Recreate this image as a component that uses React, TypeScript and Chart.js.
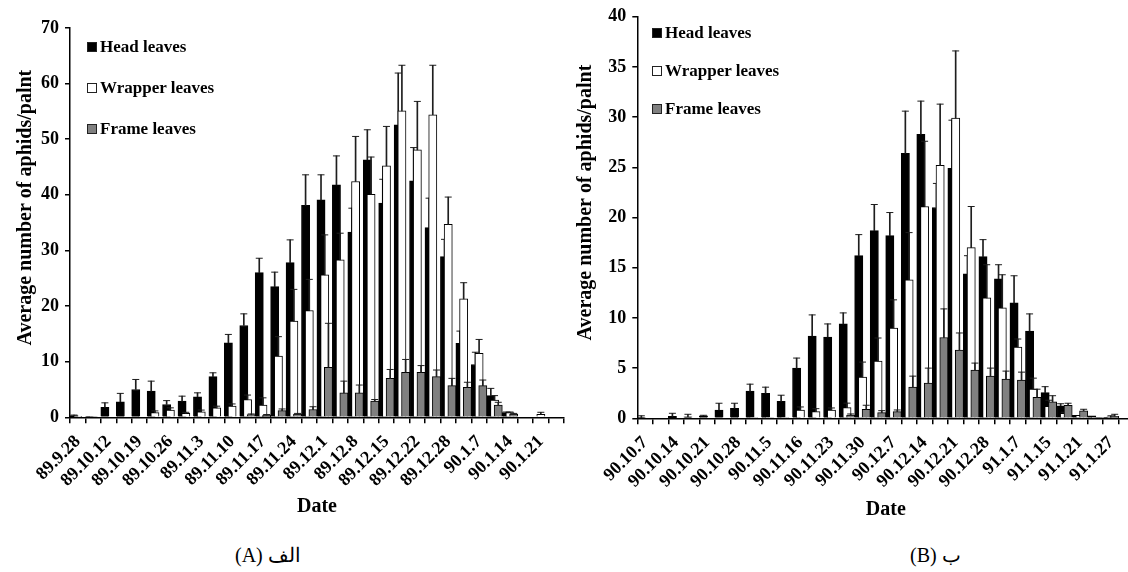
import React, { useEffect, useRef } from 'react';
import { Chart, registerables } from 'chart.js';

Chart.register(...registerables);

// ---------------- data ----------------
const seriesNames = ['Head leaves', 'Wrapper leaves', 'Frame leaves'];

// labels shown on every second sampling date
const dateLabelsA = ['89.9.28', '89.10.12', '89.10.19', '89.10.26', '89.11.3', '89.11.10', '89.11.17', '89.11.24', '89.12.1', '89.12.8', '89.12.15', '89.12.22', '89.12.28', '90.1.7', '90.1.14', '90.1.21'];
const dateLabelsB = ['90.10.7', '90.10.14', '90.10.21', '90.10.28', '90.11.5', '90.11.16', '90.11.23', '90.11.30', '90.12.7', '90.12.14', '90.12.21', '90.12.28', '91.1.7', '91.1.15', '91.1.21', '91.1.27'];

const headA = [0.3, 0.1, 1.8, 2.8, 5.0, 4.7, 2.3, 2.9, 3.7, 7.3, 13.4, 16.5, 26.0, 23.5, 27.8, 38.1, 39.1, 41.8, 33.3, 46.3, 38.5, 52.6, 42.5, 34.1, 28.9, 13.3, 9.5, 3.9, 0.85, 0, 0, 0];
const headErrA = [0.1, 0, 0.8, 1.5, 1.8, 1.8, 0.7, 0.9, 0.7, 0.7, 1.5, 2.1, 2.6, 2.6, 4.1, 5.5, 4.5, 5.2, 4.3, 5.4, 4.3, 9.3, 6.0, 5.3, 3.1, 2.2, 2.2, 1.3, 0.1, 0, 0, 0];
const wrapperA = [0.15, 0.1, 0, 0, 0, 0.85, 1.3, 0.7, 1.0, 1.7, 2.0, 3.2, 2.2, 11.0, 17.3, 19.2, 25.6, 28.3, 42.4, 40.1, 45.2, 55.1, 48.1, 54.4, 34.7, 21.3, 11.5, 3.1, 0.85, 0, 0.55, 0];
const wrapperErrA = [0, 0, 0, 0, 0, 0.3, 0.4, 0.2, 0.3, 0.3, 0.4, 0.8, 1.3, 3.5, 5.7, 5.6, 7.2, 4.8, 8.1, 6.7, 7.1, 8.2, 8.7, 8.9, 4.9, 2.9, 2.5, 0.8, 0.1, 0, 0.35, 0];
const frameA = [0, 0, 0, 0, 0, 0, 0, 0, 0, 0, 0, 0.5, 0.4, 1.2, 0.6, 1.4, 9.0, 4.4, 4.4, 2.9, 7.0, 8.1, 8.1, 7.3, 5.7, 5.4, 5.7, 2.2, 0.6, 0, 0, 0];
const frameErrA = [0, 0, 0, 0, 0, 0, 0, 0, 0, 0, 0, 0.1, 0.1, 0.3, 0.1, 0.5, 7.9, 2.1, 1.4, 0.3, 1.6, 2.3, 1.2, 1.2, 1.3, 0.9, 1.0, 0.5, 0.1, 0, 0, 0];

const headB = [0.05, 0, 0.2, 0.15, 0.25, 0.83, 1.0, 2.7, 2.5, 1.7, 5.0, 8.2, 8.1, 9.4, 16.2, 18.7, 18.2, 26.4, 28.3, 21.0, 24.9, 14.4, 16.1, 13.9, 11.5, 8.7, 2.55, 1.25, 0.3, 0.25, 0.1, 0];
const headErrB = [0.2, 0, 0.3, 0.25, 0.05, 0.67, 0.5, 0.7, 0.6, 0.6, 1.0, 2.1, 1.3, 1.1, 2.1, 2.6, 2.3, 4.2, 3.3, 2.4, 4.8, 1.8, 1.7, 1.4, 2.7, 1.7, 0.6, 0.2, 0, 0, 0, 0];
const wrapperB = [0, 0, 0, 0, 0, 0, 0, 0.1, 0.1, 0.1, 0.83, 0.66, 0.83, 1.06, 4.1, 5.7, 9.0, 13.8, 21.1, 25.2, 29.9, 17.0, 12.0, 11.0, 7.1, 2.9, 1.2, 0.5, 0.3, 0.1, 0.15, 0];
const wrapperErrB = [0, 0, 0, 0, 0, 0, 0, 0, 0, 0, 0.3, 0.3, 0.2, 0.45, 1.5, 2.3, 2.8, 4.7, 6.5, 6.1, 6.7, 4.1, 3.3, 3.3, 0.8, 1.1, 0.6, 0.1, 0, 0, 0.1, 0];
const frameB = [0, 0, 0, 0, 0, 0, 0, 0, 0, 0, 0, 0, 0, 0.33, 0.9, 0.56, 0.66, 3.1, 3.5, 8.05, 6.8, 4.8, 4.2, 3.9, 3.8, 2.1, 1.65, 1.3, 0.75, 0.1, 0.2, 0];
const frameErrB = [0, 0, 0, 0, 0, 0, 0, 0, 0, 0, 0, 0, 0, 0.1, 0.4, 0.2, 0.17, 1.1, 1.5, 2.85, 1.7, 0.7, 0.8, 0.8, 0.8, 0.8, 0.6, 0.2, 0.15, 0, 0.2, 0];

const yTicksA = { max: 70, step: 10 };
const yTicksB = { max: 40, step: 5 };

// ---------------- styling ----------------
const FONT = "'Liberation Serif', 'Times New Roman', serif";
const FILLS = ['#000000', '#ffffff', '#808080'];
const ERR_COLOR = '#1e1e1e';
const OFFSETS = [0.26, 0.5, 0.74]; // position of each series inside a sampling slot

type PanelProps = {
  left: number;
  width: number;
  height: number;
  padTop: number;
  padRight: number;
  padBottom: number;
  yWidth: number;
  xHeight: number;
  labelPad: number;
  labels: string[];
  values: number[][];
  errors: number[][];
  yMax: number;
  yStep: number;
  legendX: number;
  legendY: number[];
};

function indices(n: number): number[] {
  const out: number[] = [];
  for (let i = 0; i < n; i++) out.push(i);
  return out;
}

function Panel(p: PanelProps) {
  const ref = useRef<HTMLCanvasElement | null>(null);

  useEffect(() => {
    if (!ref.current) return;
    const n = p.values[0].length;
    const plotW = p.width - p.yWidth - p.padRight;
    const barW = (plotW / n) * 0.53;
    const datasets: any[] = [];
    p.values.forEach((vals, s) => {
      const errs = p.errors[s];
      const xs = vals.map((_, i) => i + OFFSETS[s]);
      datasets.push({
        type: 'bar',
        label: seriesNames[s],
        data: vals.map((v, i) => ({ x: xs[i], y: v })),
        backgroundColor: FILLS[s],
        borderColor: '#000',
        borderWidth: 1,
        barThickness: barW,
        grouped: false,
        order: 8 - 3 * s,
      });
      const errIdx = indices(vals.length).filter((i) => errs[i] > 0);
      datasets.push({
        type: 'bar',
        label: seriesNames[s] + ' SE',
        data: errIdx.map((i) => ({ x: xs[i], y: [vals[i], vals[i] + errs[i]] })),
        backgroundColor: ERR_COLOR,
        borderWidth: 0,
        barThickness: 1,
        grouped: false,
        order: 7 - 3 * s,
      });
      datasets.push({
        type: 'scatter',
        label: seriesNames[s] + ' SE cap',
        data: errIdx.map((i) => ({ x: xs[i], y: vals[i] + errs[i] })),
        pointStyle: 'line',
        pointRadius: 3.5,
        borderColor: ERR_COLOR,
        backgroundColor: ERR_COLOR,
        borderWidth: 1,
        order: 6 - 3 * s,
      });
    });

    const chart = new Chart(ref.current, {
      type: 'bar',
      data: { datasets },
      options: {
        responsive: false,
        animation: false,
        events: [],
        layout: { padding: { left: 0, top: p.padTop, right: p.padRight, bottom: p.padBottom } },
        plugins: { legend: { display: false }, tooltip: { enabled: false } },
        scales: {
          x: {
            type: 'linear',
            min: 0,
            max: n,
            offset: false,
            afterBuildTicks: (scale: any) => {
              scale.ticks = indices(n).map((i) => ({ value: i + 0.5 }));
            },
            afterFit: (scale: any) => {
              scale.height = p.xHeight;
            },
            ticks: {
              autoSkip: false,
              minRotation: 45,
              maxRotation: 45,
              padding: p.labelPad,
              color: '#000',
              font: { family: FONT, size: 18, weight: 'bold' },
              callback: (_v: any, i: number) => (i % 2 === 0 ? p.labels[i / 2] ?? '' : ''),
            },
            grid: {
              display: true,
              offset: true,
              drawOnChartArea: false,
              drawTicks: true,
              tickLength: 6,
              color: '#000',
              lineWidth: 1.5,
            },
            border: { display: true, color: '#000', width: 1.5 },
            title: {
              display: true,
              text: 'Date',
              color: '#000',
              font: { family: FONT, size: 20, weight: 'bold' },
              padding: { top: 0, bottom: 0 },
            },
          },
          y: {
            type: 'linear',
            min: 0,
            max: p.yMax,
            afterFit: (scale: any) => {
              scale.width = p.yWidth;
            },
            ticks: {
              stepSize: p.yStep,
              padding: 6,
              color: '#000',
              font: { family: FONT, size: 18, weight: 'bold' },
            },
            grid: {
              display: true,
              drawOnChartArea: false,
              drawTicks: true,
              tickLength: 5,
              color: '#000',
              lineWidth: 1.5,
            },
            border: { display: true, color: '#000', width: 1.5 },
            title: {
              display: true,
              text: '\u00a0\u00a0\u00a0\u00a0\u00a0\u00a0Average number of aphids/palnt',
              color: '#000',
              font: { family: FONT, size: 20, weight: 'bold' },
              padding: { top: 14, bottom: 0 },
            },
          },
        },
      } as any,
    });
    return () => chart.destroy();
  }, []);

  return (
    <>
      <canvas
        ref={ref}
        width={p.width}
        height={p.height}
        style={{ position: 'absolute', left: p.left, top: 0, width: p.width, height: p.height }}
      />
      {seriesNames.map((name, k) => (
        <div
          key={name}
          style={{
            position: 'absolute',
            left: p.legendX,
            top: p.legendY[k] - 12,
            height: 24,
            display: 'flex',
            alignItems: 'center',
            font: `bold 17px ${FONT}`,
            color: '#000',
            whiteSpace: 'nowrap',
          }}
        >
          <span
            style={{
              display: 'inline-block',
              width: 10,
              height: 10,
              boxSizing: 'border-box',
              background: FILLS[k],
              border: '1px solid #222',
              marginRight: 3,
            }}
          />
          {name}
        </div>
      ))}
    </>
  );
}

export default function App() {
  useEffect(() => {
    document.body.style.margin = '0';
  }, []);
  return (
    <div
      style={{
        position: 'fixed',
        left: 0,
        top: 0,
        width: 1128,
        height: 572,
        overflow: 'hidden',
        background: '#fff',
      }}
    >
      <Panel
        left={0}
        width={590}
        height={530}
        padTop={28}
        padRight={26}
        padBottom={11}
        yWidth={70}
        xHeight={101.7}
        labelPad={8}
        labels={dateLabelsA}
        values={[headA, wrapperA, frameA]}
        errors={[headErrA, wrapperErrA, frameErrA]}
        yMax={yTicksA.max}
        yStep={yTicksA.step}
        legendX={87}
        legendY={[47, 88, 129]}
      />
      <Panel
        left={560}
        width={590}
        height={530}
        padTop={15.2}
        padRight={14.4}
        padBottom={8}
        yWidth={77.3}
        xHeight={103.7}
        labelPad={8}
        labels={dateLabelsB}
        values={[headB, wrapperB, frameB]}
        errors={[headErrB, wrapperErrB, frameErrB]}
        yMax={yTicksB.max}
        yStep={yTicksB.step}
        legendX={652}
        legendY={[33, 71, 109]}
      />
      <div
        dir="ltr"
        style={{ position: 'absolute', left: 235, top: 543, font: `20px ${FONT}`, color: '#000', whiteSpace: 'nowrap' }}
      >
        (A) الف
      </div>
      <div
        dir="ltr"
        style={{ position: 'absolute', left: 910, top: 543, font: `20px ${FONT}`, color: '#000', whiteSpace: 'nowrap' }}
      >
        (B) ب
      </div>
    </div>
  );
}
